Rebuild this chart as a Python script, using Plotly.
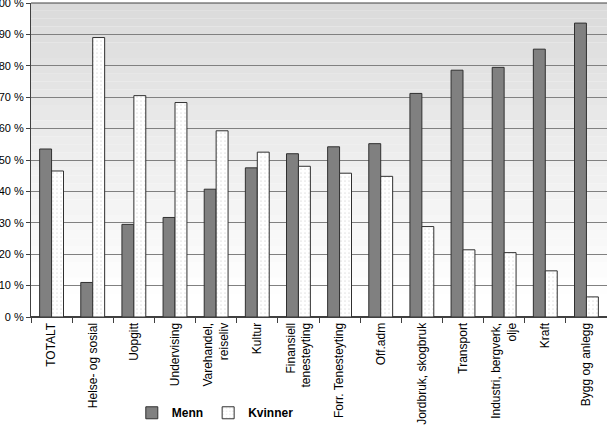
import plotly.graph_objects as go

categories = ["TOTALT", "Helse- og sosial", "Uopgitt", "Undervising", "Varehandel,<br>reiseliv",
              "Kultur", "Finansiell<br>tenesteyting", "Forr. Tenesteyting", "Off.adm",
              "Jordbruk, skogbruk", "Transport", "Industri, bergverk,<br>olje", "Kraft", "Bygg og anlegg"]
menn = [53.5, 11.0, 29.5, 31.7, 40.7, 47.5, 52.0, 54.2, 55.2, 71.2, 78.6, 79.5, 85.3, 93.6]
kvinner = [46.5, 89.0, 70.5, 68.3, 59.3, 52.5, 48.0, 45.8, 44.8, 28.8, 21.4, 20.5, 14.7, 6.4]
y_ticks = [0, 10, 20, 30, 40, 50, 60, 70, 80, 90, 100]
y_labels = [f"{v} %" for v in y_ticks]

fig = go.Figure()
fig.add_trace(go.Bar(x=categories, y=menn, name="Menn",
                     marker=dict(color="#808080", line=dict(color="#303030", width=1))))
fig.add_trace(go.Bar(x=categories, y=kvinner, name="Kvinner",
                     marker=dict(color="#ffffff", line=dict(color="#303030", width=1),
                                 pattern=dict(shape=".", fgcolor="#c8c8c8", bgcolor="#ffffff",
                                              size=4, solidity=0.15))))

# gradient background
n = 40
shapes = []
for i in range(n):
    y0 = i / n
    y1 = (i + 1) / n
    t = (i + 0.5) / n
    c = int(round(258 - 40 * t))
    c = min(255, c)
    shapes.append(dict(type="rect", xref="paper", yref="paper", x0=0, x1=1, y0=y0, y1=y1,
                       fillcolor=f"rgb({c},{c},{c})", line=dict(width=0), layer="below"))
shapes.append(dict(type="line", xref="paper", yref="paper", x0=0, x1=1, y0=1, y1=1,
                   line=dict(color="#404040", width=1)))

fig.update_layout(
    width=607, height=432,
    margin=dict(l=31, r=0, t=3, b=115),
    paper_bgcolor="white", plot_bgcolor="rgba(0,0,0,0)",
    barmode="group", bargap=0.42, bargroupgap=0,
    font=dict(family="Liberation Sans, Arial", size=11, color="black"),
    shapes=shapes,
    showlegend=True,
    legend=dict(orientation="h", x=0.175, y=-0.305, xanchor="left", yanchor="middle",
                font=dict(size=12, weight="bold"), itemwidth=30, bgcolor="rgba(0,0,0,0)"),
)
fig.update_yaxes(range=[0, 100], tickvals=y_ticks, ticktext=y_labels,
                 showgrid=True, gridcolor="#808080", gridwidth=1,
                 showline=True, linecolor="#404040", ticks="outside", ticklen=4,
                 tickcolor="#404040", zeroline=True, zerolinecolor="#404040",
                 tickfont=dict(size=11), ticklabeloverflow="allow", automargin=False)
fig.update_xaxes(tickangle=-90, showline=True, linecolor="#404040", ticks="outside",
                 tickson="boundaries", ticklen=5, tickcolor="#404040",
                 tickfont=dict(size=12), automargin=False)

fig.write_html("out.html")
